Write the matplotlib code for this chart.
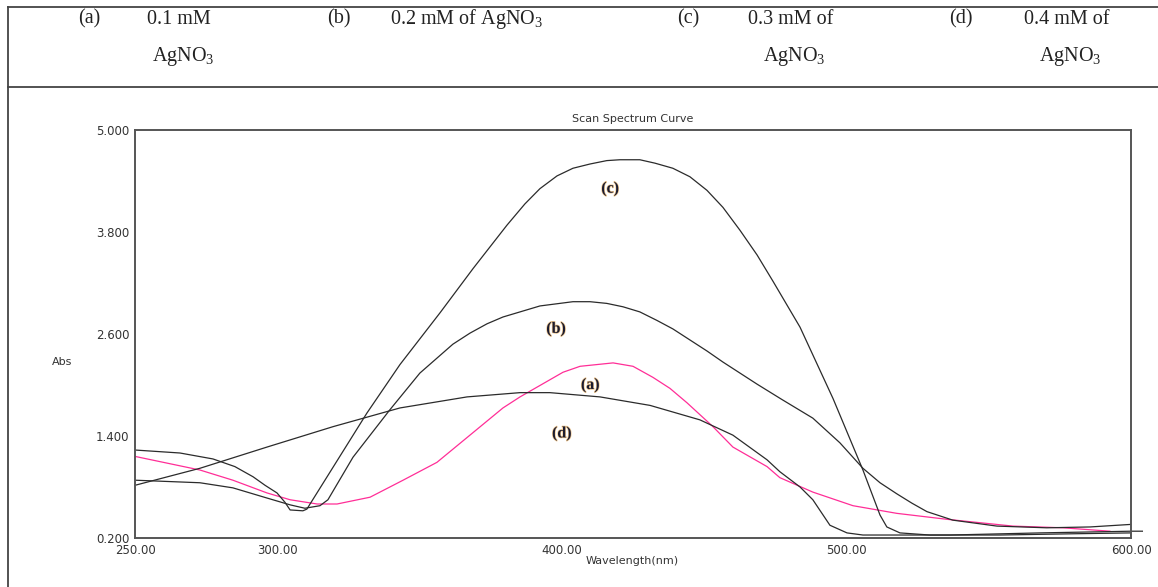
"""
UV-Vis scan spectrum curves of AgNO3 samples (a)-(d)
"""
import matplotlib
matplotlib.use('Agg')
from matplotlib import pyplot as plt
from matplotlib.lines import Line2D
import matplotlib.patheffects as pe

# (a) 0.1 mM AgNO3 -- pink curve
wl_a = [250, 272.8, 284.4, 296.4, 304.5, 314, 321, 332.6, 344.2, 356.1, 367.7, 379.3,
        385.3, 400.4, 406.4, 418, 425, 432, 438, 444, 453.1, 460.1, 472.1, 476.6,
        488.2, 502.3, 517.7, 535.3, 558.5, 576.1, 592.6]
abs_a = [1.16, 1.0, 0.88, 0.73, 0.65, 0.60, 0.60, 0.68, 0.88, 1.09, 1.41, 1.73,
         1.86, 2.15, 2.22, 2.26, 2.22, 2.09, 1.96, 1.79, 1.51, 1.27, 1.04, 0.91,
         0.74, 0.58, 0.49, 0.42, 0.34, 0.32, 0.28]

# (b) 0.2 mM
wl_b = [250, 272.8, 284.4, 296.4, 304.5, 309.7, 315, 317.8, 326.6, 339.6, 350.1, 361.7,
        367.7, 373.7, 379.3, 385.3, 392.3, 403.9, 409.9, 415.8, 421.5, 427.4, 433.4,
        439, 445, 451, 456.6, 462.6, 468.6, 477.3, 488.2, 497.7, 505.8, 511.8, 517.7,
        523, 528.3, 537.4, 552.9, 570.4, 585.6, 600]
abs_b = [0.88, 0.85, 0.79, 0.67, 0.59, 0.55, 0.58, 0.65, 1.15, 1.71, 2.14, 2.48,
         2.61, 2.72, 2.80, 2.86, 2.93, 2.98, 2.98, 2.96, 2.92, 2.86, 2.76,
         2.66, 2.53, 2.40, 2.27, 2.14, 2.01, 1.83, 1.61, 1.32, 1.02, 0.85, 0.72,
         0.61, 0.51, 0.41, 0.34, 0.32, 0.33, 0.36]

# (c) 0.3 mM
wl_c = [250, 265.8, 277.4, 285.1, 291.5, 295.7, 299.9, 302.7, 304.5, 309, 310.4, 331.5,
        343.1, 357.2, 368.8, 380.7, 387, 392.3, 398.3, 403.9, 409.9, 415.8, 420.4,
        424.6, 427.4, 432.7, 439, 445, 451, 456.6, 462.6, 468.6, 474.2, 483.7, 495.3,
        505.8, 511.8, 514.2, 518.8, 529.3, 553.9, 580, 600]
abs_c = [1.235, 1.2, 1.13, 1.04, 0.92, 0.82, 0.73, 0.62, 0.53, 0.52, 0.54, 1.67,
         2.24, 2.85, 3.37, 3.88, 4.13, 4.31, 4.46, 4.55, 4.60, 4.64, 4.65,
         4.65, 4.65, 4.61, 4.55, 4.45, 4.29, 4.09, 3.82, 3.53, 3.22, 2.68, 1.84,
         1.0, 0.47, 0.33, 0.26, 0.235, 0.235, 0.25, 0.26]

# (d) 0.4 mM
wl_d = [250, 272.8, 296.4, 319.6, 343.1, 366.7, 385.3, 395.8, 413.4, 431, 448.5, 460.1,
        472.1, 476.6, 483.7, 488.2, 494.2, 500.2, 505.8, 536.4, 568, 600, 604]
abs_d = [0.82, 1.02, 1.27, 1.51, 1.73, 1.86, 1.91, 1.91, 1.86, 1.76, 1.59, 1.41,
         1.12, 0.98, 0.80, 0.65, 0.35, 0.26, 0.235, 0.235, 0.26, 0.28, 0.28]

y_ticks = [0.2, 1.4, 2.6, 3.8, 5.0]
x_ticks = [250, 300, 400, 500, 600]

# curve labels placed inside the plot
curve_labels = ['(c)', '(b)', '(a)', '(d)']
label_wl = [417, 398, 410, 400]
label_abs = [4.31, 2.66, 2.0, 1.43]

plt.rcParams['font.family'] = ['DejaVu Sans']
plt.rcParams['mathtext.default'] = 'regular'

fig = plt.figure(figsize=(11.58, 5.87), dpi=100)
W, H = 1158.0, 587.0

# header table lines (pixel -> figure coords)
line_kw = dict(color='#444444', linewidth=1.3, transform=fig.transFigure)
fig.add_artist(Line2D([8 / W, 1.0], [1 - 7 / H, 1 - 7 / H], **line_kw))
fig.add_artist(Line2D([8 / W, 1.0], [1 - 87 / H, 1 - 87 / H], **line_kw))
fig.add_artist(Line2D([8 / W, 8 / W], [0, 1 - 7 / H], **line_kw))

serif = ['Liberation Serif', 'DejaVu Serif']
hdr = dict(family=serif, fontsize=14.5, color='#222222', va='center')
row1 = 1 - 19 / H
row2 = 1 - 56 / H
fig.text(89 / W, row1, '(a)', ha='center', **hdr)
fig.text(147 / W, row1, '0.1 mM', ha='left', **hdr)
fig.text(152 / W, row2, 'AgNO$_3$', ha='left', **hdr)
fig.text(339 / W, row1, '(b)', ha='center', **hdr)
fig.text(390 / W, row1, '0.2 mM of AgNO$_3$', ha='left', **hdr)
fig.text(688 / W, row1, '(c)', ha='center', **hdr)
fig.text(748 / W, row1, '0.3 mM of', ha='left', **hdr)
fig.text(763 / W, row2, 'AgNO$_3$', ha='left', **hdr)
fig.text(961 / W, row1, '(d)', ha='center', **hdr)
fig.text(1024 / W, row1, '0.4 mM of', ha='left', **hdr)
fig.text(1039 / W, row2, 'AgNO$_3$', ha='left', **hdr)

# plot area
ax = fig.add_axes([135 / W, 49 / H, 996 / W, 408 / H])
ax.plot(wl_a, abs_a, color='#ff2e97', linewidth=0.9)
ax.plot(wl_b, abs_b, color='#2b2b2b', linewidth=0.9)
ax.plot(wl_c, abs_c, color='#2b2b2b', linewidth=0.9)
ax.plot(wl_d, abs_d, color='#2b2b2b', linewidth=0.9, clip_on=False)

glow = [pe.withStroke(linewidth=1.0, foreground='#f0c890')]
for lab, x, y in zip(curve_labels, label_wl, label_abs):
    ax.text(x, y, lab, family=serif, fontsize=11.5, fontweight='bold',
            color='#1c1c30', ha='center', va='center', path_effects=glow)

ax.set_xlim(250, 600)
ax.set_ylim(0.2, 5.0)
ax.set_xticks(x_ticks)
ax.set_xticklabels(['%.2f' % v for v in x_ticks])
ax.set_yticks(y_ticks)
ax.set_yticklabels(['%.3f' % v for v in y_ticks])
ax.tick_params(length=0, labelsize=8.5, labelcolor='#333333', pad=4)
for sp in ax.spines.values():
    sp.set_color('#555555')
    sp.set_linewidth(1.4)

ax.set_title('Scan Spectrum Curve', fontsize=8, color='#333333', pad=6)
fig.text(632 / W, 1 - 561 / H, 'Wavelength(nm)', fontsize=8, color='#333333',
         ha='center', va='center')
fig.text(62 / W, 1 - 362 / H, 'Abs', fontsize=8, color='#333333',
         ha='center', va='center')

plt.savefig('out.png', dpi=100)
